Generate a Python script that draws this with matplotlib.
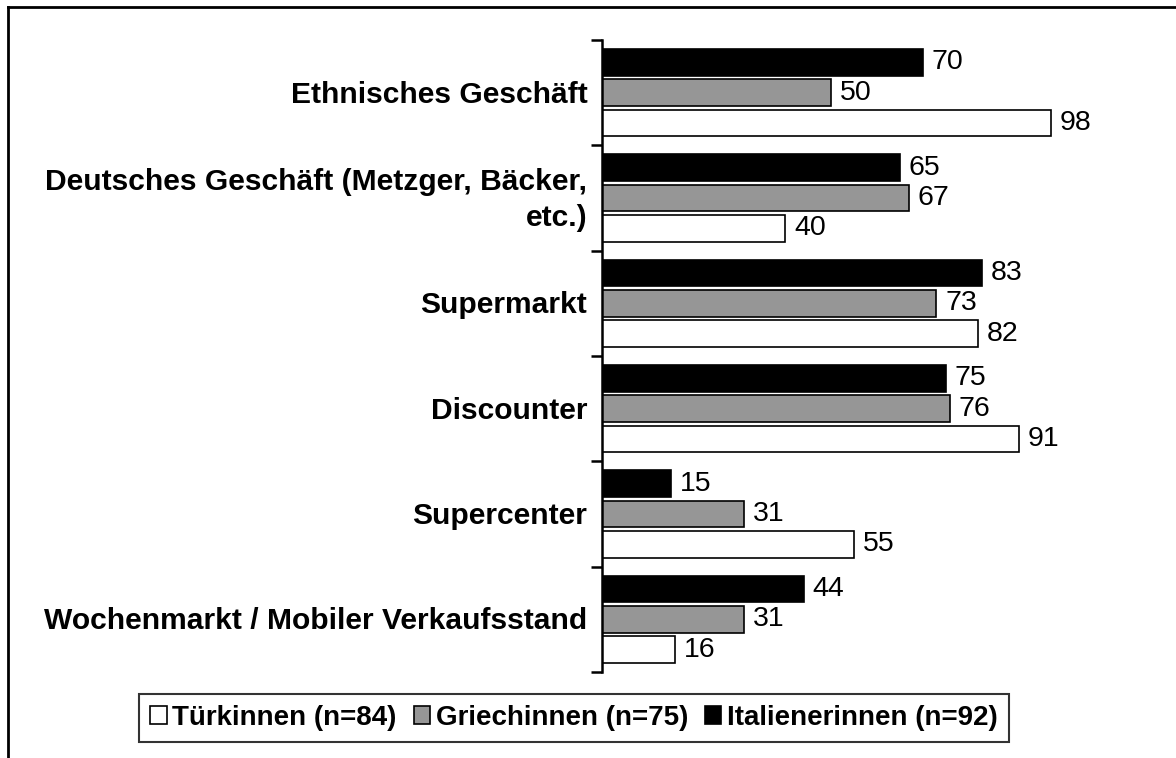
import matplotlib.pyplot as plt
import numpy as np
from matplotlib.lines import Line2D

categories = ['Ethnisches Geschäft', 'Deutsches Geschäft (Metzger, Bäcker,\netc.)',
              'Supermarkt', 'Discounter', 'Supercenter',
              'Wochenmarkt / Mobiler Verkaufsstand']
tuerkinnen = [98, 40, 82, 91, 55, 16]
griechinnen = [50, 67, 73, 76, 31, 31]
italienerinnen = [70, 65, 83, 75, 15, 44]
series_names = ['Türkinnen (n=84)', 'Griechinnen (n=75)', 'Italienerinnen (n=92)']

plt.rcParams['font.family'] = ['Liberation Sans', 'DejaVu Sans']

fig = plt.figure(figsize=(11.76, 7.58), dpi=100)
W, H = 1176, 758
ax = fig.add_axes([602 / W, 1 - 672 / H, 504 / W, 632 / H])

y = np.arange(len(categories))
h = 0.255
step = 0.288
series = [(italienerinnen, 'black', -step), (griechinnen, '#969696', 0), (tuerkinnen, 'white', step)]
for vals, col, off in series:
    ax.barh(y + off, vals, height=h, color=col, edgecolor='black', linewidth=1.2)
    for yi, v in zip(y, vals):
        ax.text(v + 1.9, yi + off, str(v), va='center', ha='left', fontsize=20.5)

ax.set_xlim(0, 110)
ax.set_ylim(len(categories) - 0.5, -0.5)
for s in ['top', 'right', 'bottom']:
    ax.spines[s].set_visible(False)
ax.spines['left'].set_linewidth(1.8)
ax.set_xticks([])
ax.set_yticks(np.arange(len(categories) + 1) - 0.5)
ax.set_yticklabels([])
ax.tick_params(axis='y', length=8, width=1.8, direction='out')
for yi, c in zip(y, categories):
    ax.text(-3.2, yi + 0.02, c, ha='right', va='center', fontsize=21.6, fontweight='bold',
            multialignment='right', linespacing=1.38)

handles = [plt.Rectangle((0, 0), 1, 1, facecolor=c, edgecolor='black', linewidth=1.2)
           for c in ['white', '#969696', 'black']]
leg = fig.legend(handles, series_names, loc='center', bbox_to_anchor=(574 / W, 1 - 718 / H),
                 ncol=3, frameon=True, fancybox=False, edgecolor='black',
                 prop={'weight': 'bold', 'size': 20}, handlelength=0.6, handleheight=0.6,
                 handletextpad=0.2, columnspacing=0.6, borderpad=0.4, borderaxespad=0)
leg.get_frame().set_linewidth(1.5)

# outer frame (only top and left edges fall inside the picture)
fig.add_artist(Line2D([8 / W, 1], [1 - 7 / H, 1 - 7 / H], color='black', linewidth=2, transform=fig.transFigure))
fig.add_artist(Line2D([8 / W, 8 / W], [0, 1 - 7 / H], color='black', linewidth=2, transform=fig.transFigure))

fig.savefig('out.png', dpi=100)
